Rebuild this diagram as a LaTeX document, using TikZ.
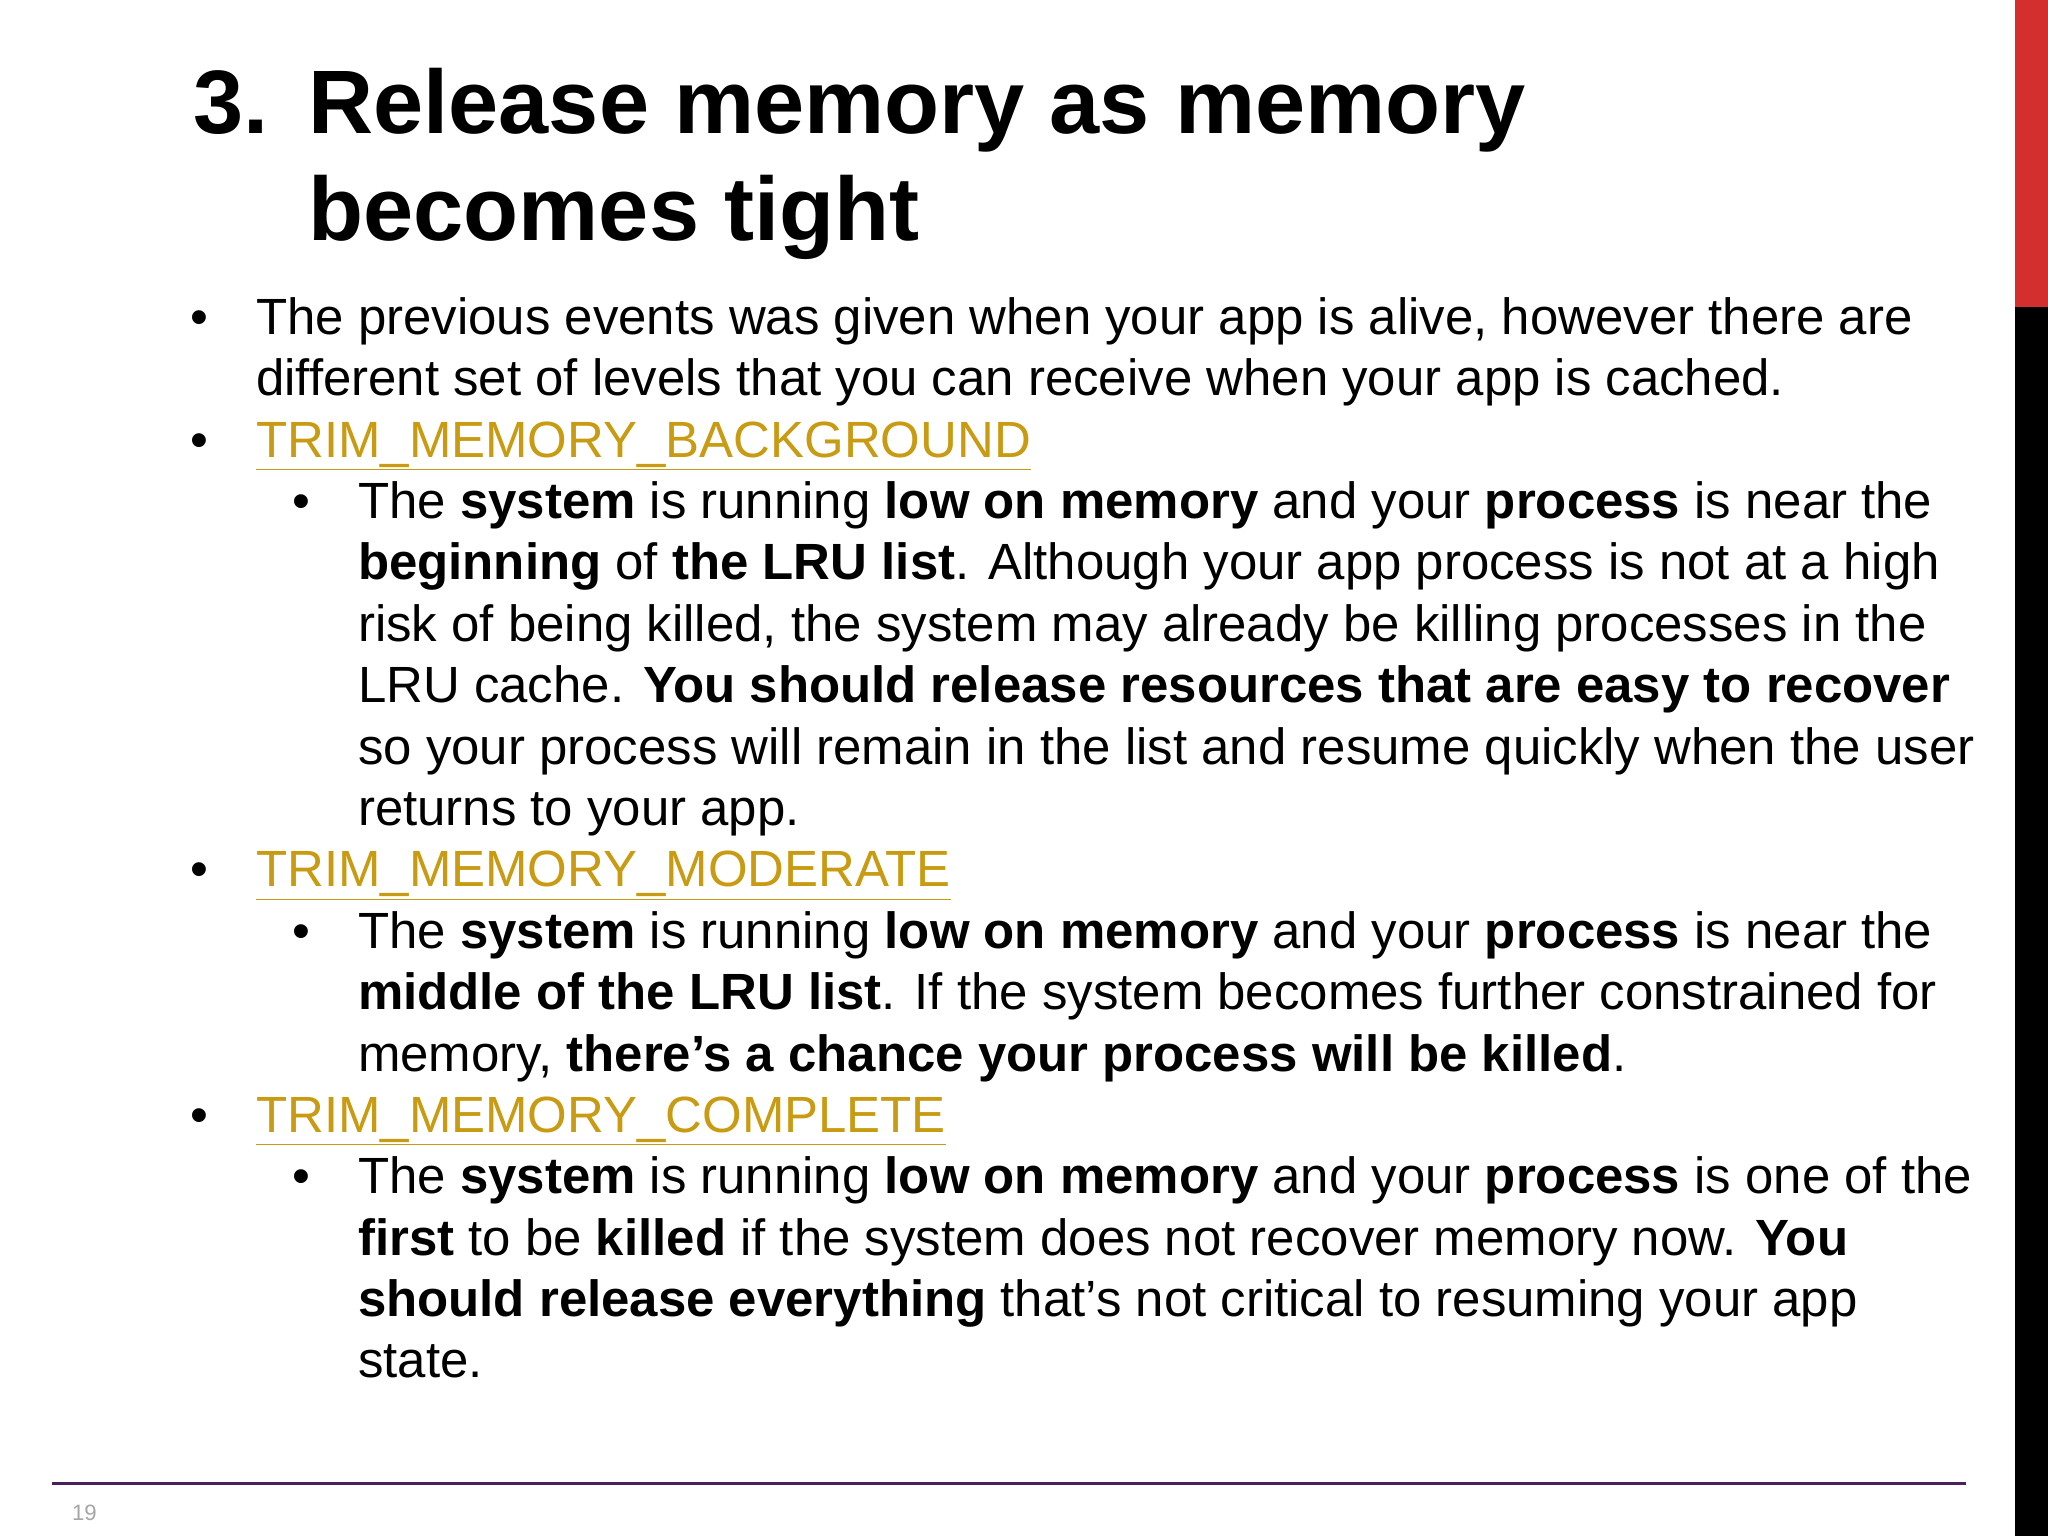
\documentclass[tikz,border=0pt]{standalone}
\usepackage{fontspec}
\setmainfont{Liberation Sans}
\definecolor{linkc}{HTML}{C89B12}
\definecolor{barred}{HTML}{D32F2F}
\definecolor{rulec}{HTML}{4A1F5C}
\newcommand{\aq}{\char"0027\relax}
\begin{document}
\begin{tikzpicture}[x=1pt,y=-1pt,
  body/.style={anchor=base west,inner sep=0pt,font=\fontsize{39}{46}\selectfont},
  ttl/.style={anchor=base west,inner sep=0pt,font=\fontsize{69}{80}\selectfont\bfseries},
  lnk/.style={body,text=linkc}]
\useasboundingbox (0,0) rectangle (1568,1176);
\fill[white] (0,0) rectangle (1568,1176);
\fill[barred] (1543,0) rectangle (1568,235);
\fill[black] (1543,235) rectangle (1568,1176);
\draw[rulec,line width=2.5pt] (40,1136) -- (1505,1136);
\node[anchor=base west,inner sep=0pt,text=gray!70,font=\fontsize{17}{20}\selectfont] (pg) at (55,1164) {19};
\node[ttl] (t0) at (148,102) {3.};
\node[ttl] (t1) at (236,102) {Release memory as memory};
\node[ttl] (t2) at (236,184) {becomes tight};
% bullets
\foreach \y/\n in {256/b1,350/b2,679/b3,867/b4}{\node[body] (\n) at (146,\y) {•};}
\foreach \y/\n in {397/c1,726/c2,914/c3}{\node[body] (\n) at (224,\y) {•};}
\node[body] (l1) at (196,256) {The previous events was given when your app is alive, however there are};
\node[body] (l2) at (196,303) {different set of levels that you can receive when your app is cached.};
\node[lnk] (l3) at (196,350) {\underline{TRIM\_MEMORY\_BACKGROUND}};
\node[body] (l4) at (274,397) {The \textbf{system} is running \textbf{low on memory} and your \textbf{process} is near the};
\node[body] (l5) at (274,444) {\textbf{beginning} of \textbf{the LRU list}. Although your app process is not at a high};
\node[body] (l6) at (274,491) {risk of being killed, the system may already be killing processes in the};
\node[body] (l7) at (274,538) {LRU cache. \textbf{You should release resources that are easy to recover}};
\node[body] (l8) at (274,585) {so your process will remain in the list and resume quickly when the user};
\node[body] (l9) at (274,632) {returns to your app.};
\node[lnk] (l10) at (196,679) {\underline{TRIM\_MEMORY\_MODERATE}};
\node[body] (l11) at (274,726) {The \textbf{system} is running \textbf{low on memory} and your \textbf{process} is near the};
\node[body] (l12) at (274,773) {\textbf{middle of the LRU list}. If the system becomes further constrained for};
\node[body] (l13) at (274,820) {memory, \textbf{there\aq s a chance your process will be killed}.};
\node[lnk] (l14) at (196,867) {\underline{TRIM\_MEMORY\_COMPLETE}};
\node[body] (l15) at (274,914) {The \textbf{system} is running \textbf{low on memory} and your \textbf{process} is one of the};
\node[body] (l16) at (274,961) {\textbf{first} to be \textbf{killed} if the system does not recover memory now. \textbf{You}};
\node[body] (l17) at (274,1008) {\textbf{should release everything} that\aq s not critical to resuming your app};
\node[body] (l18) at (274,1055) {state.};
\end{tikzpicture}
\end{document}
